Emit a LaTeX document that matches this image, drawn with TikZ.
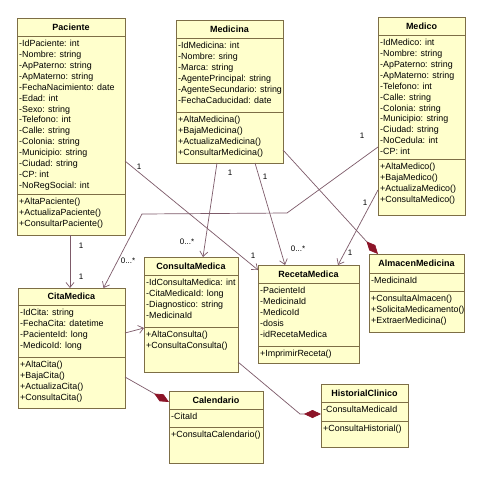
\documentclass[tikz,border=0pt]{standalone}
\usepackage{fontspec}
\setmainfont{Liberation Sans}
\usetikzlibrary{arrows.meta}
\definecolor{fondo}{RGB}{255,255,204}
\definecolor{borde}{RGB}{125,110,70}
\definecolor{linea}{RGB}{125,90,105}
\definecolor{rombo}{RGB}{140,20,40}
\newcommand{\muchos}{0...*}
\begin{document}
\begin{tikzpicture}[x=1pt,y=-1pt,
  clase/.style={draw=borde,fill=fondo,line width=0.8pt,anchor=north west,inner sep=0pt,outer sep=0pt},
  titulo/.style={font=\bfseries\fontsize{9}{11}\selectfont},
  miembros/.style={anchor=north west,align=left,inner xsep=2pt,inner ysep=4pt,font=\fontsize{8.9}{10.9}\selectfont},
  separador/.style={draw=borde,line width=0.8pt},
  rel/.style={draw=linea,line width=0.7pt},
  asoc/.style={rel,-{Straight Barb[length=5pt,width=8pt]}},
  comp/.style={rel,-{Diamond[length=17pt,width=8pt,color=rombo]}},
  mult/.style={font=\fontsize{8}{9}\selectfont,inner sep=0pt}]
  \useasboundingbox[fill=white] (0,0) rectangle (480,480);
  % Paciente
  \node[clase,minimum width=108,minimum height=217] (paciente) at (17,18) {};
  \node[titulo] (paciente-t) at (71,27) {Paciente};
  \draw[separador] (17,36) -- (125,36) (17,194) -- (125,194);
  \node[miembros] (paciente-a) at (17,36) {-IdPaciente: int\\-Nombre: string\\-ApPaterno: string\\-ApMaterno: string\\-FechaNacimiento: date\\-Edad: int\\-Sexo: string\\-Telefono: int\\-Calle: string\\-Colonia: string\\-Municipio: string\\-Ciudad: string\\-CP: int\\-NoRegSocial: int};
  \node[miembros] (paciente-m) at (17,194) {+AltaPaciente()\\+ActualizaPaciente()\\+ConsultarPaciente()};
  % Medicina
  \node[clase,minimum width=107,minimum height=143] (medicina) at (176,20) {};
  \node[titulo] (medicina-t) at (229.5,29) {Medicina};
  \draw[separador] (176,38) -- (283,38) (176,112) -- (283,112);
  \node[miembros] (medicina-a) at (176,38) {-IdMedicina: int\\-Nombre: sring\\-Marca: string\\-AgentePrincipal: string\\-AgenteSecundario: string\\-FechaCaducidad: date};
  \node[miembros] (medicina-m) at (176,112) {+AltaMedicina()\\+BajaMedicina()\\+ActualizaMedicina()\\+ConsultarMedicina()};
  % Medico
  \node[clase,minimum width=87,minimum height=198] (medico) at (378,17) {};
  \node[titulo] (medico-t) at (421.5,26) {Medico};
  \draw[separador] (378,35) -- (465,35) (378,159) -- (465,159);
  \node[miembros] (medico-a) at (378,35) {-IdMedico: int\\-Nombre: string\\-ApPaterno: string\\-ApMaterno: string\\-Telefono: int\\-Calle: string\\-Colonia: string\\-Municipio: string\\-Ciudad: string\\-NoCedula: int\\-CP: int};
  \node[miembros] (medico-m) at (378,159) {+AltaMedico()\\+BajaMedico()\\+ActualizaMedico()\\+ConsultaMedico()};
  % CitaMedica
  \node[clase,minimum width=107,minimum height=120] (citamedica) at (18,288) {};
  \node[titulo] (citamedica-t) at (71.5,296.5) {CitaMedica};
  \draw[separador] (18,305) -- (125,305) (18,357) -- (125,357);
  \node[miembros] (citamedica-a) at (18,305) {-IdCita: string\\-FechaCita: datetime\\-PacienteId: long\\-MedicoId: long};
  \node[miembros] (citamedica-m) at (18,357) {+AltaCita()\\+BajaCita()\\+ActualizaCita()\\+ConsultaCita()};
  % ConsultaMedica
  \node[clase,minimum width=94,minimum height=115] (consulta) at (144,257) {};
  \node[titulo] (consulta-t) at (191,266) {ConsultaMedica};
  \draw[separador] (144,275) -- (238,275) (144,327) -- (238,327);
  \node[miembros] (consulta-a) at (144,275) {-IdConsultaMedica: int\\-CitaMedicaId: long\\-Diagnostico: string\\-MedicinaId};
  \node[miembros] (consulta-m) at (144,327) {+AltaConsulta()\\+ConsultaConsulta()};
  % RecetaMedica
  \node[clase,minimum width=101,minimum height=98] (receta) at (258,265) {};
  \node[titulo] (receta-t) at (308.5,274) {RecetaMedica};
  \draw[separador] (258,283) -- (359,283) (258,346) -- (359,346);
  \node[miembros] (receta-a) at (258,283) {-PacienteId\\-MedicinaId\\-MedicoId\\-dosis\\-idRecetaMedica};
  \node[miembros] (receta-m) at (258,346) {+ImprimirReceta()};
  % AlmacenMedicina
  \node[clase,minimum width=95,minimum height=78] (almacen) at (369,254) {};
  \node[titulo] (almacen-t) at (416.5,263.5) {AlmacenMedicina};
  \draw[separador] (369,273) -- (464,273) (369,291) -- (464,291);
  \node[miembros] (almacen-a) at (369,273) {-MedicinaId};
  \node[miembros] (almacen-m) at (369,291) {+ConsultaAlmacen()\\+SolicitaMedicamento()\\+ExtraerMedicina()};
  % Calendario
  \node[clase,minimum width=94,minimum height=72] (calendario) at (169,391) {};
  \node[titulo] (calendario-t) at (216,400) {Calendario};
  \draw[separador] (169,409) -- (263,409) (169,427) -- (263,427);
  \node[miembros] (calendario-a) at (169,409) {-CitaId};
  \node[miembros] (calendario-m) at (169,427) {+ConsultaCalendario()};
  % HistorialClinico
  \node[clase,minimum width=87,minimum height=63] (historial) at (321,384) {};
  \node[titulo] (historial-t) at (364.5,393) {HistorialClinico};
  \draw[separador] (321,402) -- (408,402) (321,421) -- (408,421);
  \node[miembros] (historial-a) at (321,402) {-ConsultaMedicaId};
  \node[miembros] (historial-m) at (321,421) {+ConsultaHistorial()};
  % Asociaciones
  \coordinate (codo1) at (287,213);
  \coordinate (codo2) at (142,214);
  \coordinate (codo3) at (300,414);
  \draw[asoc] ([xshift=-1pt]paciente.south) -- ([xshift=-1.5pt]citamedica.north);
  \draw[asoc] ([yshift=-31pt]medico.west) -- (codo1) -- (codo2) -- ([xshift=32pt]citamedica.north);
  \draw[asoc] ([xshift=-12.5pt]medicina.south) -- ([xshift=12pt]consulta.north);
  \draw[asoc] ([xshift=25.5pt]medicina.south) -- ([xshift=-23.5pt]receta.north);
  \draw[asoc] ([yshift=-34.5pt]paciente.east) -- ([yshift=-5pt]receta.north west);
  \draw[asoc] ([yshift=-74pt]medico.west) -- ([xshift=29.5pt]receta.north);
  \draw[asoc] ([yshift=15pt]citamedica.east) -- ([yshift=-13.5pt]consulta.west);
  % Composiciones
  \draw[comp] ([yshift=-58.5pt]medicina.east) -- ([xshift=-38.5pt]almacen.north);
  \draw[comp] ([yshift=-29pt]citamedica.east) -- ([yshift=25pt]calendario.west);
  \draw[comp] ([yshift=-47.5pt]consulta.east) -- (codo3) -- ([yshift=1.5pt]historial.west);
  % Multiplicidades
  \foreach \n/\px/\py/\txt in {1/81/246/1, 2/81/277/1, 3/362/136/1, 4/128/261/\muchos,
      5/230/173/1, 6/187/242/\muchos, 7/265/177/1, 8/298/249/\muchos,
      9/139/167/1, 10/253/256/1, 11/365/203/1, 12/350/253/1}
    \node[mult] (mult\n) at (\px,\py) {\txt};
\end{tikzpicture}
\end{document}
